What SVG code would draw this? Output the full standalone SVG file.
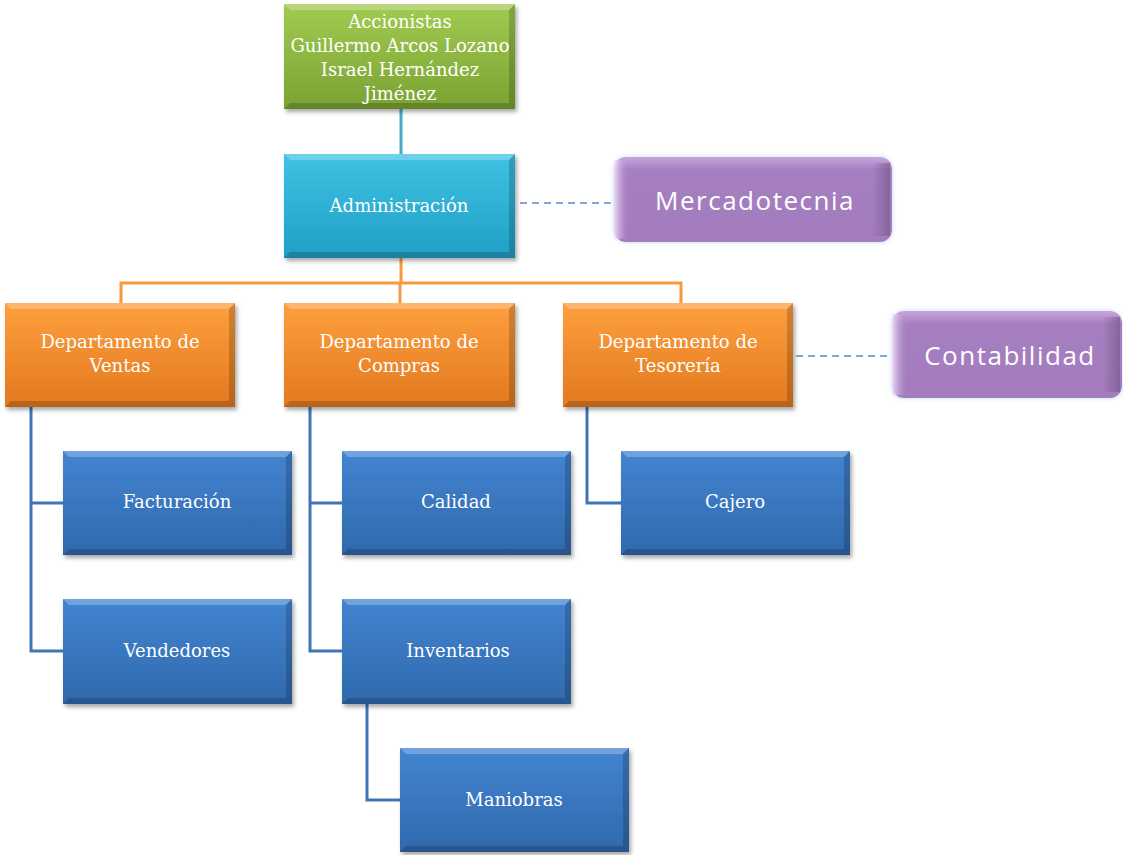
<svg xmlns="http://www.w3.org/2000/svg" width="1123" height="855" viewBox="0 0 1123 855">
<defs>
<linearGradient id="gGreen" x1="0" y1="0" x2="0" y2="1"><stop offset="0" stop-color="#a2cb52"/><stop offset="1" stop-color="#7aa232"/></linearGradient>
<linearGradient id="gCyan" x1="0" y1="0" x2="0" y2="1"><stop offset="0" stop-color="#3fc2e4"/><stop offset="1" stop-color="#1f9fc4"/></linearGradient>
<linearGradient id="gOrange" x1="0" y1="0" x2="0" y2="1"><stop offset="0" stop-color="#fe9f3e"/><stop offset="1" stop-color="#e2791f"/></linearGradient>
<linearGradient id="gBlue" x1="0" y1="0" x2="0" y2="1"><stop offset="0" stop-color="#4384d0"/><stop offset="1" stop-color="#2f69ad"/></linearGradient>
<linearGradient id="gPurple" x1="0" y1="0" x2="0" y2="1"><stop offset="0" stop-color="#c8a6dc"/><stop offset="0.15" stop-color="#a57fc0"/><stop offset="1" stop-color="#a47cbe"/></linearGradient>
<linearGradient id="gPL" x1="0" y1="0" x2="1" y2="0"><stop offset="0" stop-color="#f6e6ff" stop-opacity="0.9"/><stop offset="1" stop-color="#a57fc0" stop-opacity="0"/></linearGradient>
<linearGradient id="gPR" x1="0" y1="0" x2="1" y2="0"><stop offset="0" stop-color="#6f5484" stop-opacity="0"/><stop offset="1" stop-color="#6f5484" stop-opacity="0.6"/></linearGradient>
<filter id="sh" x="-10%" y="-10%" width="125%" height="130%"><feDropShadow dx="2" dy="3" stdDeviation="2" flood-color="#000" flood-opacity="0.35"/></filter>
<filter id="glow" x="-10%" y="-20%" width="120%" height="140%"><feDropShadow dx="0" dy="0" stdDeviation="2.5" flood-color="#b9d4f0" flood-opacity="0.9"/></filter>
</defs>
<style>
.t{font-family:"DejaVu Serif","Liberation Serif",serif;font-size:18px;fill:#ffffff;text-anchor:middle}
.p{font-family:"Open Sans","Liberation Sans",sans-serif;font-size:26px;letter-spacing:1.5px;fill:#ffffff;text-anchor:middle}
.hl{fill:#ffffff;opacity:0.25}
.dk{fill:#000000;opacity:0.18}
.c{fill:none;stroke-width:3}
.cb{stroke:#3e75b6}
.co{stroke:#f79a3c}
.cc{stroke:#4aa9c8}
.cd{fill:none;stroke:#5a8cc4;stroke-width:1.5;stroke-dasharray:7,5}
</style>
<rect width="1123" height="855" fill="#ffffff"/>
<g id="connectors">
<line class="c cc" x1="401" y1="109" x2="401" y2="154"/>
<path class="c co" d="M401 258 V283 M121 303 V283 H681 V303 M400 283 V303"/>
<path class="c cb" d="M31 407 V651 H63 M31 503 H63"/>
<path class="c cb" d="M310 407 V651 H342 M310 503 H342"/>
<path class="c cb" d="M587 407 V503 H621"/>
<path class="c cb" d="M367 704 V800 H400"/>
<line class="cd" x1="520" y1="203" x2="614" y2="203"/>
<line class="cd" x1="796" y1="356" x2="892" y2="356"/>
</g>
<g id="accionistas">
<rect x="284" y="4" width="231" height="105" fill="url(#gGreen)" filter="url(#sh)"/>
<polygon class="hl" points="284,4 515,4 509,10 290,10"/>
<polygon class="dk" points="284,109 515,109 509,103 290,103"/>
<polygon class="dk" points="515,4 515,109 509,103 509,10"/>
<text class="t" x="400" y="28">Accionistas</text>
<text class="t" x="400" y="52">Guillermo Arcos Lozano</text>
<text class="t" x="400" y="76">Israel Hernández</text>
<text class="t" x="400" y="100">Jiménez</text>
</g>
<g id="administracion">
<rect x="284" y="154" width="231" height="104" fill="url(#gCyan)" filter="url(#sh)"/>
<polygon class="hl" points="284,154 515,154 509,160 290,160"/>
<polygon class="dk" points="284,258 515,258 509,252 290,252"/>
<polygon class="dk" points="515,154 515,258 509,252 509,160"/>
<text class="t" x="399" y="212">Administración</text>
</g>
<g id="mercadotecnia">
<rect x="614" y="157" width="278" height="85" rx="12" fill="url(#gPurple)" filter="url(#glow)"/>
<rect x="614" y="160" width="16" height="79" fill="url(#gPL)"/>
<rect x="872" y="163" width="18" height="73" fill="url(#gPR)"/>
<text class="p" x="755" y="210">Mercadotecnia</text>
</g>
<g id="ventas">
<rect x="5" y="303" width="230" height="104" fill="url(#gOrange)" filter="url(#sh)"/>
<polygon class="hl" points="5,303 235,303 229,309 11,309"/>
<polygon class="dk" points="5,407 235,407 229,401 11,401"/>
<polygon class="dk" points="235,303 235,407 229,401 229,309"/>
<text class="t" x="120" y="348">Departamento de</text>
<text class="t" x="120" y="372">Ventas</text>
</g>
<g id="compras">
<rect x="284" y="303" width="231" height="104" fill="url(#gOrange)" filter="url(#sh)"/>
<polygon class="hl" points="284,303 515,303 509,309 290,309"/>
<polygon class="dk" points="284,407 515,407 509,401 290,401"/>
<polygon class="dk" points="515,303 515,407 509,401 509,309"/>
<text class="t" x="399" y="348">Departamento de</text>
<text class="t" x="399" y="372">Compras</text>
</g>
<g id="tesoreria">
<rect x="563" y="303" width="230" height="104" fill="url(#gOrange)" filter="url(#sh)"/>
<polygon class="hl" points="563,303 793,303 787,309 569,309"/>
<polygon class="dk" points="563,407 793,407 787,401 569,401"/>
<polygon class="dk" points="793,303 793,407 787,401 787,309"/>
<text class="t" x="678" y="348">Departamento de</text>
<text class="t" x="678" y="372">Tesorería</text>
</g>
<g id="contabilidad">
<rect x="892" y="311" width="230" height="87" rx="12" fill="url(#gPurple)" filter="url(#glow)"/>
<rect x="892" y="314" width="16" height="81" fill="url(#gPL)"/>
<rect x="1102" y="317" width="18" height="75" fill="url(#gPR)"/>
<text class="p" x="1010" y="365">Contabilidad</text>
</g>
<g id="facturacion">
<rect x="63" y="451" width="229" height="104" fill="url(#gBlue)" filter="url(#sh)"/>
<polygon class="hl" points="63,451 292,451 286,457 69,457"/>
<polygon class="dk" points="63,555 292,555 286,549 69,549"/>
<polygon class="dk" points="292,451 292,555 286,549 286,457"/>
<text class="t" x="177" y="508">Facturación</text>
</g>
<g id="vendedores">
<rect x="63" y="599" width="229" height="105" fill="url(#gBlue)" filter="url(#sh)"/>
<polygon class="hl" points="63,599 292,599 286,605 69,605"/>
<polygon class="dk" points="63,704 292,704 286,698 69,698"/>
<polygon class="dk" points="292,599 292,704 286,698 286,605"/>
<text class="t" x="177" y="657">Vendedores</text>
</g>
<g id="calidad">
<rect x="342" y="451" width="229" height="104" fill="url(#gBlue)" filter="url(#sh)"/>
<polygon class="hl" points="342,451 571,451 565,457 348,457"/>
<polygon class="dk" points="342,555 571,555 565,549 348,549"/>
<polygon class="dk" points="571,451 571,555 565,549 565,457"/>
<text class="t" x="456" y="508">Calidad</text>
</g>
<g id="inventarios">
<rect x="342" y="599" width="229" height="105" fill="url(#gBlue)" filter="url(#sh)"/>
<polygon class="hl" points="342,599 571,599 565,605 348,605"/>
<polygon class="dk" points="342,704 571,704 565,698 348,698"/>
<polygon class="dk" points="571,599 571,704 565,698 565,605"/>
<text class="t" x="458" y="657">Inventarios</text>
</g>
<g id="maniobras">
<rect x="400" y="748" width="229" height="104" fill="url(#gBlue)" filter="url(#sh)"/>
<polygon class="hl" points="400,748 629,748 623,754 406,754"/>
<polygon class="dk" points="400,852 629,852 623,846 406,846"/>
<polygon class="dk" points="629,748 629,852 623,846 623,754"/>
<text class="t" x="514" y="806">Maniobras</text>
</g>
<g id="cajero">
<rect x="621" y="451" width="229" height="104" fill="url(#gBlue)" filter="url(#sh)"/>
<polygon class="hl" points="621,451 850,451 844,457 627,457"/>
<polygon class="dk" points="621,555 850,555 844,549 627,549"/>
<polygon class="dk" points="850,451 850,555 844,549 844,457"/>
<text class="t" x="735" y="508">Cajero</text>
</g>
</svg>
